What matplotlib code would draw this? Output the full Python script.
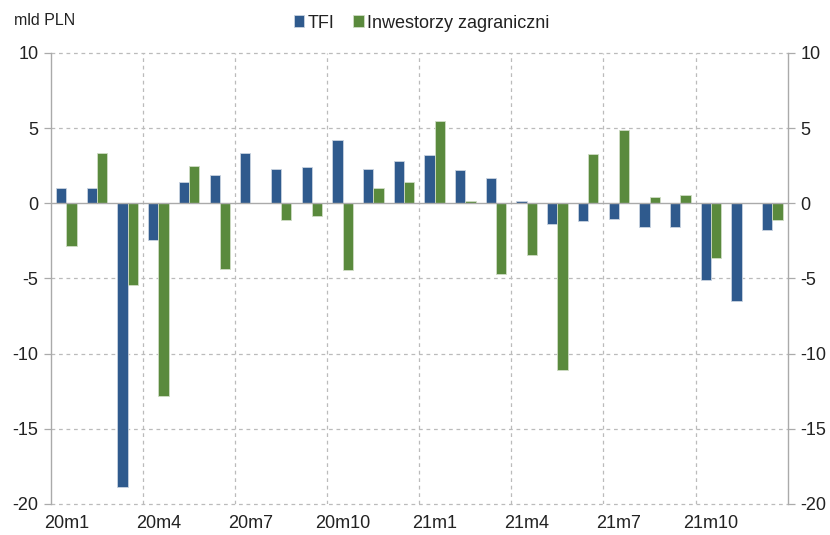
import numpy as np
import matplotlib.pyplot as plt

plt.rcParams['font.family'] = ['Liberation Sans', 'DejaVu Sans']
plt.rcParams['axes.unicode_minus'] = False

# months 20m1 .. 21m12
months = ['20m1', '20m2', '20m3', '20m4', '20m5', '20m6', '20m7', '20m8', '20m9',
          '20m10', '20m11', '20m12', '21m1', '21m2', '21m3', '21m4', '21m5', '21m6',
          '21m7', '21m8', '21m9', '21m10', '21m11', '21m12']
tfi = [1.0, 1.05, -18.85, -2.45, 1.4, 1.9, 3.35, 2.25, 2.4, 4.2, 2.25, 2.8,
       3.2, 2.2, 1.65, 0.15, -1.35, -1.15, -1.05, -1.55, -1.6, -5.1, -6.5, -1.8]
foreign = [-2.85, 3.35, -5.45, -12.85, 2.45, -4.4, 0.05, -1.1, -0.85, -4.45, 1.05, 1.4,
           5.5, 0.15, -4.7, -3.45, -11.1, 3.25, 4.85, 0.4, 0.55, -3.65, 0.0, -1.1]

blue = '#2F5A8D'
green = '#5A8A3D'
grid_c = '#BBBBBB'

fig = plt.figure(figsize=(8.3, 5.35), dpi=100)
ax = fig.add_axes([0.0614, 0.058, 0.8876, 0.843])

x = np.arange(len(months))
w = 0.335
ax.bar(x - w / 2, tfi, w, color=blue, edgecolor='#C9D3E0', linewidth=0.6, label='TFI', zorder=3)
ax.bar(x + w / 2, foreign, w, color=green, edgecolor='#CFDCC5', linewidth=0.6,
       label='Inwestorzy zagraniczni', zorder=3)

ax.set_xlim(-0.5, len(months) - 0.5)
ax.set_ylim(-20, 10)
ax.set_yticks([-20, -15, -10, -5, 0, 5, 10])
for v in [-20, -15, -10, -5, 5, 10]:
    ax.axhline(v, color=grid_c, lw=0.9, ls=(0, (3, 3)), zorder=1, clip_on=False)
for xv in np.arange(2.5, 22, 3):
    ax.axvline(xv, color=grid_c, lw=0.9, ls=(0, (3, 3)), zorder=1)
ax.axhline(0, color='#AAAAAA', lw=1.0, zorder=4)

ax.set_xticks(x[::3])
ax.set_xticklabels(months[::3])
ax.tick_params(axis='x', length=0, pad=8, labelsize=13, colors='#222222')
ax.tick_params(axis='y', length=5, width=0.9, color='#AAAAAA', labelsize=13,
               labelcolor='#222222', right=True, labelright=True, pad=4)

for s in ['top', 'bottom']:
    ax.spines[s].set_visible(False)
for s in ['left', 'right']:
    ax.spines[s].set_color('#AAAAAA')
    ax.spines[s].set_linewidth(1.0)

fig.text(0.017, 0.962, 'mld PLN', fontsize=11.5, color='#222222', va='center')
fig.legend(loc='center', bbox_to_anchor=(0.508, 0.957), ncol=2, frameon=False,
           fontsize=13, handlelength=0.6, handleheight=0.6, handletextpad=0.2,
           columnspacing=1.0, labelcolor='#222222')

fig.savefig('out.png', dpi=100)
